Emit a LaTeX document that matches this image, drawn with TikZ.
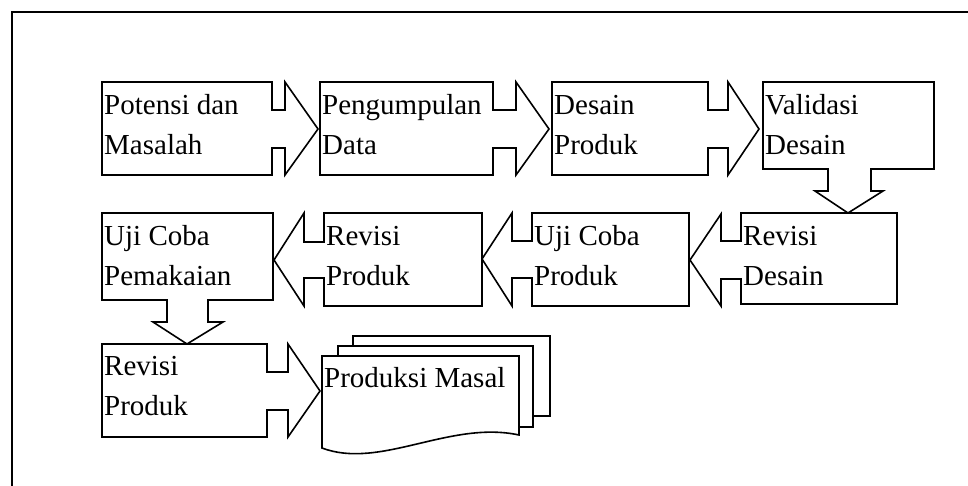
\documentclass[tikz,border=0pt]{standalone}
\usepackage{fontspec}
\setmainfont{Liberation Serif}
\begin{document}
\begin{tikzpicture}[x=1pt,y=-1pt,
  shp/.style={draw=black, line width=1.6pt, line join=miter, fill=white},
  lbl/.style={anchor=base west, inner sep=0pt, font=\fontsize{29}{40}\selectfont}]
\useasboundingbox (0,0) rectangle (968,486);
\draw[line width=2.6pt] (12,487) -- (12,12) -- (969,12);
% row 1
\draw[shp] (102,82) -- (272,82) -- (272,110) -- (285,110) -- (285,82) -- (318,129) -- (285,175) -- (285,148) -- (272,148) -- (272,175) -- (102,175) -- cycle;
\draw[shp] (320,82) -- (493,82) -- (493,110) -- (516,110) -- (516,82) -- (549,129) -- (516,175) -- (516,148) -- (493,148) -- (493,175) -- (320,175) -- cycle;
\draw[shp] (552,82) -- (708,82) -- (708,110) -- (728,110) -- (728,82) -- (759,129) -- (728,175) -- (728,148) -- (708,148) -- (708,175) -- (552,175) -- cycle;
\draw[shp] (763,82) -- (934,82) -- (934,169) -- (871,169) -- (871,191) -- (883,191) -- (848,213) -- (815,191) -- (828,191) -- (828,169) -- (763,169) -- cycle;
% row 2
\draw[shp] (897,213) -- (897,304) -- (741,304) -- (741,279) -- (721,279) -- (721,306) -- (690,260) -- (721,214) -- (721,241) -- (741,241) -- (741,213) -- cycle;
\draw[shp] (689,213) -- (689,306) -- (532,306) -- (532,278) -- (512,278) -- (512,306) -- (482,259) -- (512,213) -- (512,241) -- (532,241) -- (532,213) -- cycle;
\draw[shp] (482,213) -- (482,306) -- (324,306) -- (324,278) -- (304,278) -- (304,306) -- (274,260) -- (304,213) -- (304,242) -- (324,242) -- (324,213) -- cycle;
\draw[shp] (102,213) -- (273,213) -- (273,300) -- (208,300) -- (208,322) -- (223,322) -- (187,344) -- (153,322) -- (167,322) -- (167,300) -- (102,300) -- cycle;
% row 3
\draw[shp] (102,344) -- (267,344) -- (267,372) -- (288,372) -- (288,344) -- (320,391) -- (288,437) -- (288,410) -- (267,410) -- (267,437) -- (102,437) -- cycle;
\draw[shp] (353,336) rectangle (550,416);
\draw[shp] (338,346) rectangle (533,427);
\draw[shp] (322,356) -- (519,356) -- (519,435) .. controls (450,420) and (380,470) .. (322,448) -- cycle;
% labels
\node[lbl] (a1) at (104,115) {Potensi dan};
\node[lbl] (a2) at (104,155) {Masalah};
\node[lbl] (b1) at (322,115) {Pengumpulan};
\node[lbl] (b2) at (322,155) {Data};
\node[lbl] (c1) at (554,115) {Desain};
\node[lbl] (c2) at (554,155) {Produk};
\node[lbl] (d1) at (765,115) {Validasi};
\node[lbl] (d2) at (765,155) {Desain};
\node[lbl] (e1) at (743,245) {Revisi};
\node[lbl] (e2) at (743,285) {Desain};
\node[lbl] (f1) at (534,245) {Uji Coba};
\node[lbl] (f2) at (534,285) {Produk};
\node[lbl] (g1) at (326,245) {Revisi};
\node[lbl] (g2) at (326,285) {Produk};
\node[lbl] (h1) at (104,245) {Uji Coba};
\node[lbl] (h2) at (104,285) {Pemakaian};
\node[lbl] (i1) at (104,375) {Revisi};
\node[lbl] (i2) at (104,415) {Produk};
\node[lbl] (j1) at (324,387) {Produksi Masal};
\end{tikzpicture}
\end{document}
